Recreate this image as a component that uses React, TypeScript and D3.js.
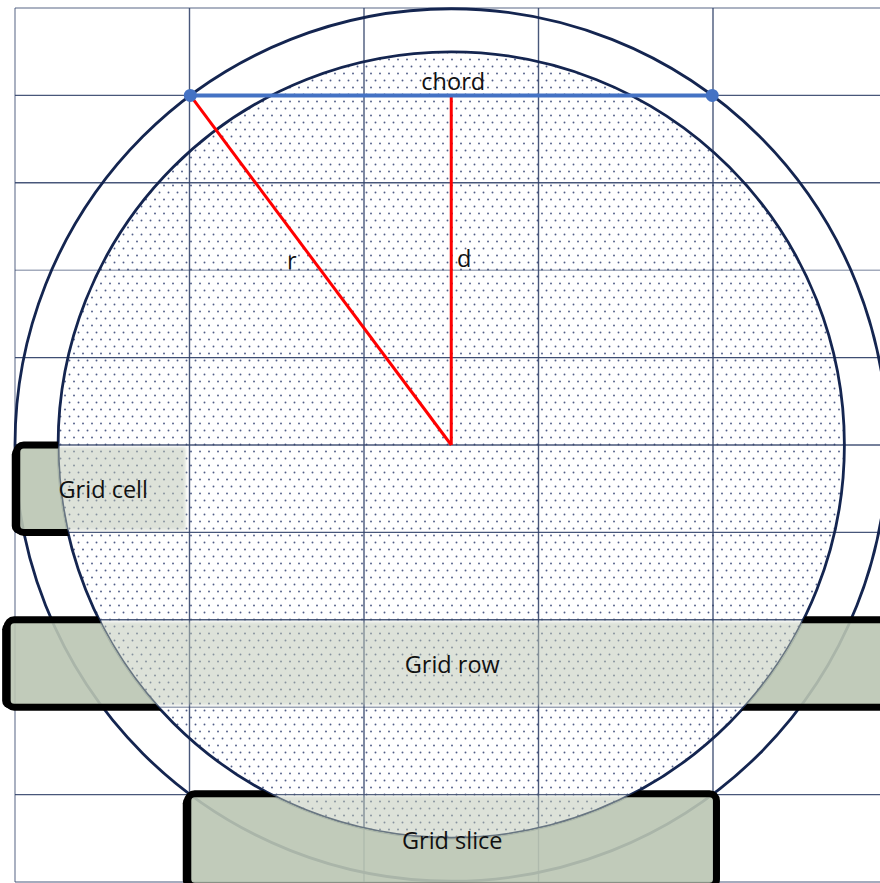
import React from "react";
import * as d3 from "d3";

// Grid definition (in grid units)
const gridCols = [0, 1, 2, 3, 4];
const gridRows = [0, 1, 2, 3, 4, 5, 6, 7, 8, 9, 10];
const rowTone = [0.55, 0.9, 0.9, 0.45, 0.95, 0.9, 0.9, 0.9, 0.5, 0.9, 0.6];
const colTone = [0.6, 0.9, 0.9, 0.9, 0.9];

// Circle geometry (grid units, radius in column units)
const center = { x: 2.5, y: 5 };
const outerRadius = 2.5;
const innerRadius = 2.253;
const chordRow = 1;

// Highlighted regions: [x0, x1, y0, y1] in grid units
const boxNames = ["Grid cell", "Grid row", "Grid slice"];
const boxX0 = [0.01, -0.045, 0.99];
const boxX1 = [0.99, 5.2, 4.02];
const boxY0 = [5.0, 7.0, 8.99];
const boxY1 = [6.0, 8.0, 10.05];
const labelX = [0.5, 2.5, 2.5];
const labelDy = [9, 9, 11];

const W = 880;
const H = 883;

export default function App() {
  const x = d3.scaleLinear().domain([0, 5]).range([15, 887.5]);
  const y = d3.scaleLinear().domain([0, 10]).range([8, 882]);
  const unit = x(1) - x(0);
  const cx = x(center.x);
  const cy = y(center.y);
  const rOut = outerRadius * unit;
  const rIn = innerRadius * unit;
  const chordY = y(chordRow);
  const dy = cy - chordY;
  const half = Math.sqrt(rOut * rOut - dy * dy);
  const chordX0 = cx - half;
  const chordX1 = cx + half;
  const font = "'Open Sans', 'Noto Sans', sans-serif";
  const gridColor = "#34456b";
  const fs = 23.5;

  const boxes = boxNames.map((n, i) => {
    const bx = x(boxX0[i]);
    const by = y(boxY0[i]);
    return { n, i, bx, by, bw: x(boxX1[i]) - bx, bh: y(boxY1[i]) - by };
  });

  const gridLines = (
    <g>
      {gridRows.map((r, i) => (
        <line
          key={"r" + r}
          x1={x(0)}
          x2={W}
          y1={y(r)}
          y2={y(r)}
          stroke={gridColor}
          strokeOpacity={rowTone[i]}
          strokeWidth={1.4}
        />
      ))}
      {gridCols.map((c, i) => (
        <line
          key={"c" + c}
          x1={x(c)}
          x2={x(c)}
          y1={y(0)}
          y2={y(10)}
          stroke={gridColor}
          strokeOpacity={colTone[i]}
          strokeWidth={1.4}
        />
      ))}
    </g>
  );

  return (
    <svg width={W} height={H} style={{ position: "absolute", left: 0, top: 0, display: "block" }}>
      <defs>
        <pattern id="dots" patternUnits="userSpaceOnUse" width={9} height={14}>
          <circle cx={2} cy={3.5} r={0.95} fill="#26366a" fillOpacity={0.8} />
          <circle cx={6.5} cy={10.5} r={0.95} fill="#26366a" fillOpacity={0.8} />
        </pattern>
        <clipPath id="insideInner">
          <circle cx={cx} cy={cy} r={rIn} />
        </clipPath>
        <mask id="outsideInner" maskUnits="userSpaceOnUse" x={0} y={0} width={W} height={H}>
          <rect x={0} y={0} width={W} height={H} fill="white" />
          <circle cx={cx} cy={cy} r={rIn} fill="black" />
        </mask>
        {boxes.map((b) => (
          <mask key={b.n} id={"shadowMask" + b.i} maskUnits="userSpaceOnUse" x={0} y={0} width={W} height={H}>
            <rect x={0} y={0} width={W} height={H} fill="white" />
            <rect x={b.bx + 3.5} y={b.by + 3.5} width={b.bw - 7} height={b.bh - 7} fill="black" />
          </mask>
        ))}
        <filter id="soft" x="-5%" y="-10%" width="110%" height="120%">
          <feGaussianBlur stdDeviation={1.5} />
        </filter>
      </defs>
      <rect x={0} y={0} width={W} height={H} fill="white" />

      {/* inner circle fill with dots */}
      <circle cx={cx} cy={cy} r={rIn} fill="white" />
      <circle cx={cx} cy={cy} r={rIn} fill="url(#dots)" />

      {gridLines}

      {/* circles */}
      <circle cx={cx} cy={cy} r={rOut} fill="none" stroke="#142550" strokeWidth={2.8} />
      <circle cx={cx} cy={cy} r={rIn} fill="none" stroke="#142550" strokeWidth={2.8} />

      {/* boxes outside inner circle */}
      <g mask="url(#outsideInner)">
        {boxes.map((b) => (
          <g key={b.n}>
            <rect
              x={b.bx - 5}
              y={b.by + 1.5}
              width={b.bw}
              height={b.bh}
              rx={8}
              fill="black"
              mask={`url(#shadowMask${b.i})`}
            />
            <rect
              x={b.bx}
              y={b.by}
              width={b.bw}
              height={b.bh}
              rx={7}
              fill="#bac5b2"
              fillOpacity={0.9}
              stroke="#000"
              strokeWidth={7}
            />
          </g>
        ))}
      </g>

      {/* boxes inside inner circle */}
      <g clipPath="url(#insideInner)">
        {boxes.map((b) => (
          <rect
            key={b.n}
            x={b.bx + 2}
            y={b.by + 2}
            width={b.bw - 4}
            height={b.bh - 4}
            fill="#bcc6b4"
            fillOpacity={0.5}
            filter="url(#soft)"
          />
        ))}
      </g>

      {/* radius and distance */}
      <line x1={chordX0} y1={chordY} x2={cx} y2={cy} stroke="#ff0000" strokeWidth={3} />
      <line x1={cx} y1={chordY} x2={cx} y2={cy} stroke="#ff0000" strokeWidth={3} />

      {/* chord */}
      <line x1={chordX0} y1={chordY} x2={chordX1} y2={chordY} stroke="#4472c4" strokeWidth={4} />
      <circle cx={chordX0} cy={chordY} r={6.5} fill="#4472c4" />
      <circle cx={chordX1} cy={chordY} r={6.5} fill="#4472c4" />

      {/* labels */}
      <text x={cx + 2} y={chordY - 5} textAnchor="middle" fontFamily={font} fontSize={fs} fill="#111">
        chord
      </text>
      <text x={(chordX0 + cx) / 2 - 29} y={(chordY + cy) / 2 - 1} textAnchor="middle" fontFamily={font} fontSize={fs} fill="#111">
        r
      </text>
      <text x={cx + 13} y={(chordY + cy) / 2 - 3} textAnchor="middle" fontFamily={font} fontSize={fs} fill="#111">
        d
      </text>
      {boxes.map((b) => (
        <text
          key={b.n}
          x={x(labelX[b.i]) + 1}
          y={(b.by + y(Math.min(boxY1[b.i], 10))) / 2 + labelDy[b.i]}
          textAnchor="middle"
          fontFamily={font}
          fontSize={fs}
          fill="#111"
        >
          {b.n}
        </text>
      ))}
    </svg>
  );
}
